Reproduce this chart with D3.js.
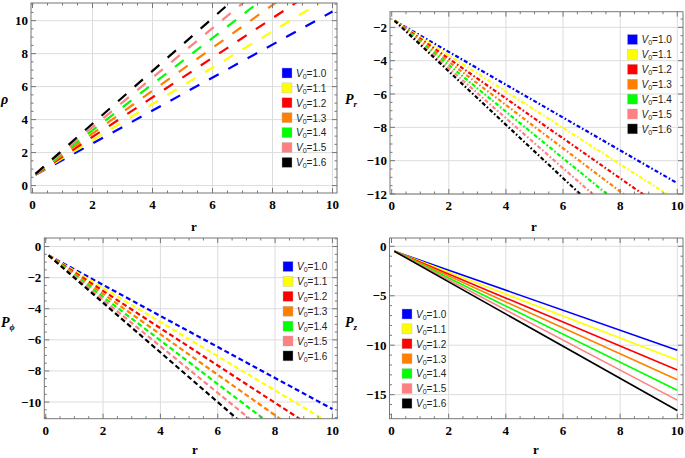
<!DOCTYPE html>
<html>
<head>
<meta charset="utf-8">
<script src="https://cdn.jsdelivr.net/npm/d3@7"></script>
<style>
  body { margin: 0; background: #fff; }
  svg { display: block; }
</style>
</head>
<body>
<div id="chart"></div>
<script>
const width = 685;
const height = 458;

// shared data
const rValues = [0.1, 10];
const v0Labels = ["1.0", "1.1", "1.2", "1.3", "1.4", "1.5", "1.6"];
const colors = ["#0000ff", "#ffff00", "#ff0000", "#ff8000", "#00ff00", "#ff8080", "#000000"];

// value of each series at r = 0.1 and r = 10 (lines are straight)
const rhoStart = [0.65, 0.66, 0.67, 0.68, 0.69, 0.70, 0.71];
const rhoEnd = [10.55, 11.55, 12.55, 13.55, 14.55, 15.55, 16.55];
const prStart = [-1.6, -1.6, -1.6, -1.6, -1.6, -1.6, -1.6];
const prEnd = [-11.35, -12.4, -13.45, -14.45, -15.45, -16.45, -17.45];
const pphiStart = [-0.57, -0.57, -0.57, -0.57, -0.57, -0.57, -0.57];
const pphiEnd = [-10.45, -11.45, -12.45, -13.45, -14.45, -15.4, -16.4];
const pzStart = [-0.5, -0.5, -0.5, -0.5, -0.5, -0.5, -0.5];
const pzEnd = [-10.5, -11.5, -12.5, -13.5, -14.55, -15.55, -16.6];

const xTicks = [0, 2, 4, 6, 8, 10];
const rhoTicks = [0, 2, 4, 6, 8, 10];
const prTicks = [-2, -4, -6, -8, -10, -12];
const pphiTicks = [0, -2, -4, -6, -8, -10];
const pzTicks = [0, -5, -10, -15];

const panels = [
  { id: "rho", start: rhoStart, end: rhoEnd, yTicks: rhoTicks, yMinor: 0.5,
    box: [31, 337, 3, 193], xDom: [-0.05, 10.15], yDom: [-0.45, 11.07],
    dash: "11,11", sw: 2.2, legend: [282, 73], ylab: { x: 1, y: 104, main: "ρ", sub: "" },
    xlab: [194, 231] },
  { id: "pr", start: prStart, end: prEnd, yTicks: prTicks, yMinor: 0.5,
    box: [390, 683, 11.7, 194], xDom: [-0.06, 10.2], yDom: [-12, -1.06],
    dash: "4,2.2,1.6,2.2", sw: 2.2, legend: [627.5, 39.5], ylab: { x: 345, y: 104, main: "P", sub: "r" },
    xlab: [534, 231] },
  { id: "pphi", start: pphiStart, end: pphiEnd, yTicks: pphiTicks, yMinor: 0.5,
    box: [44.3, 337.3, 238, 418.7], xDom: [-0.05, 10.17], yDom: [-11.07, 0.55],
    dash: "5,3", sw: 2.2, legend: [283, 266.5], ylab: { x: 1, y: 327, main: "P", sub: "ϕ" },
    xlab: [195, 454] },
  { id: "pz", start: pzStart, end: pzEnd, yTicks: pzTicks, yMinor: 1,
    box: [389.5, 683, 238, 418.7], xDom: [-0.07, 10.2], yDom: [-17.43, 0.84],
    dash: null, sw: 1.6, legend: [402, 314], ylab: { x: 345, y: 327, main: "P", sub: "z" },
    xlab: [536, 454] }
];

const svg = d3.select("#chart").append("svg")
  .attr("width", width)
  .attr("height", height);

const fmt = v => (v < 0 ? "\u2212" + Math.abs(v) : String(v));

panels.forEach((p, pi) => {
  const [left, right, top, bottom] = p.box;
  const x = d3.scaleLinear().domain(p.xDom).range([left, right]);
  const y = d3.scaleLinear().domain(p.yDom).range([bottom, top]);
  const g = svg.append("g");

  // grid lines
  g.selectAll(".gx").data(xTicks.filter(t => t > 0)).enter().append("line")
    .attr("x1", d => x(d)).attr("x2", d => x(d))
    .attr("y1", top).attr("y2", bottom)
    .style("stroke", "#dcdcdc").style("stroke-width", 1);
  g.selectAll(".gy").data(p.yTicks).enter().append("line")
    .attr("x1", left).attr("x2", right)
    .attr("y1", d => y(d)).attr("y2", d => y(d))
    .style("stroke", "#dcdcdc").style("stroke-width", 1);

  // lines
  const clipId = "clip" + pi;
  svg.append("clipPath").attr("id", clipId).append("rect")
    .attr("x", left).attr("y", top).attr("width", right - left).attr("height", bottom - top);

  const line = d3.line().x(d => x(d[0])).y(d => y(d[1]));
  const series = v0Labels.map((lab, i) => rValues.map((rv, k) => [rv, k === 0 ? p.start[i] : p.end[i]]));

  g.append("g").attr("clip-path", `url(#${clipId})`)
    .selectAll("path").data(series).enter().append("path")
    .attr("d", line)
    .style("fill", "none")
    .style("stroke", (d, i) => colors[i])
    .style("stroke-width", p.sw)
    .style("stroke-dasharray", p.dash);

  // frame
  g.append("rect")
    .attr("x", left).attr("y", top).attr("width", right - left).attr("height", bottom - top)
    .style("fill", "none").style("stroke", "#777").style("stroke-width", 1);

  // ticks (inward, all four sides)
  const xMinor = d3.range(0, 10.01, 0.5);
  const [y0, y1] = p.yDom;
  const yMinor = d3.range(Math.ceil(y0 / p.yMinor) * p.yMinor, y1, p.yMinor);
  const tickG = g.append("g").style("stroke", "#777").style("stroke-width", 1);
  xMinor.forEach(t => {
    const major = xTicks.includes(t);
    const len = major ? 5 : 2.5;
    tickG.append("line").attr("x1", x(t)).attr("x2", x(t)).attr("y1", bottom).attr("y2", bottom - len);
    tickG.append("line").attr("x1", x(t)).attr("x2", x(t)).attr("y1", top).attr("y2", top + len);
  });
  yMinor.forEach(t => {
    const major = p.yTicks.some(v => Math.abs(v - t) < 1e-6);
    const len = major ? 5 : 2.5;
    tickG.append("line").attr("y1", y(t)).attr("y2", y(t)).attr("x1", left).attr("x2", left + len);
    tickG.append("line").attr("y1", y(t)).attr("y2", y(t)).attr("x1", right).attr("x2", right - len);
  });

  // tick labels
  g.selectAll(".xl").data(xTicks).enter().append("text")
    .attr("x", d => x(d)).attr("y", bottom + 16)
    .attr("text-anchor", "middle")
    .style("font-family", "'Liberation Serif', serif").style("font-weight", "bold").style("font-size", "13px")
    .text(d => d);
  g.selectAll(".yl").data(p.yTicks).enter().append("text")
    .attr("x", left - 3).attr("y", d => y(d) + 4.5)
    .attr("text-anchor", "end")
    .style("font-family", "'Liberation Serif', serif").style("font-weight", "bold").style("font-size", "13px")
    .text(d => fmt(d));

  // axis labels
  g.append("text").attr("x", p.xlab[0]).attr("y", p.xlab[1])
    .attr("text-anchor", "middle")
    .style("font-family", "'Liberation Serif', serif").style("font-weight", "bold").style("font-size", "13px")
    .text("r");
  const yl = g.append("text").attr("x", p.ylab.x).attr("y", p.ylab.y)
    .style("font-family", "'Liberation Serif', serif").style("font-weight", "bold")
    .style("font-style", "italic").style("font-size", "14px");
  yl.append("tspan").text(p.ylab.main);
  if (p.ylab.sub) {
    yl.append("tspan").attr("dy", 3).style("font-size", "9px").text(p.ylab.sub);
  }

  // legend
  const leg = g.append("g").attr("transform", `translate(${p.legend[0]},${p.legend[1]})`);
  v0Labels.forEach((lab, i) => {
    const row = leg.append("g").attr("transform", `translate(0,${i * 14.9})`);
    row.append("rect").attr("x", 0).attr("y", -5).attr("width", 10).attr("height", 10)
      .style("fill", colors[i]).style("stroke", "#bbb").style("stroke-width", 0.4);
    const t = row.append("text").attr("x", 14).attr("y", 3.8)
      .style("font-family", "'Liberation Sans', Arial, sans-serif").style("font-size", "10px")
      .style("fill", "#222");
    t.append("tspan").style("font-style", "italic").text("V");
    t.append("tspan").attr("dy", 2).style("font-size", "7px").text("0");
    t.append("tspan").attr("dy", -2).text("=" + lab);
  });
});
</script>
</body>
</html>
